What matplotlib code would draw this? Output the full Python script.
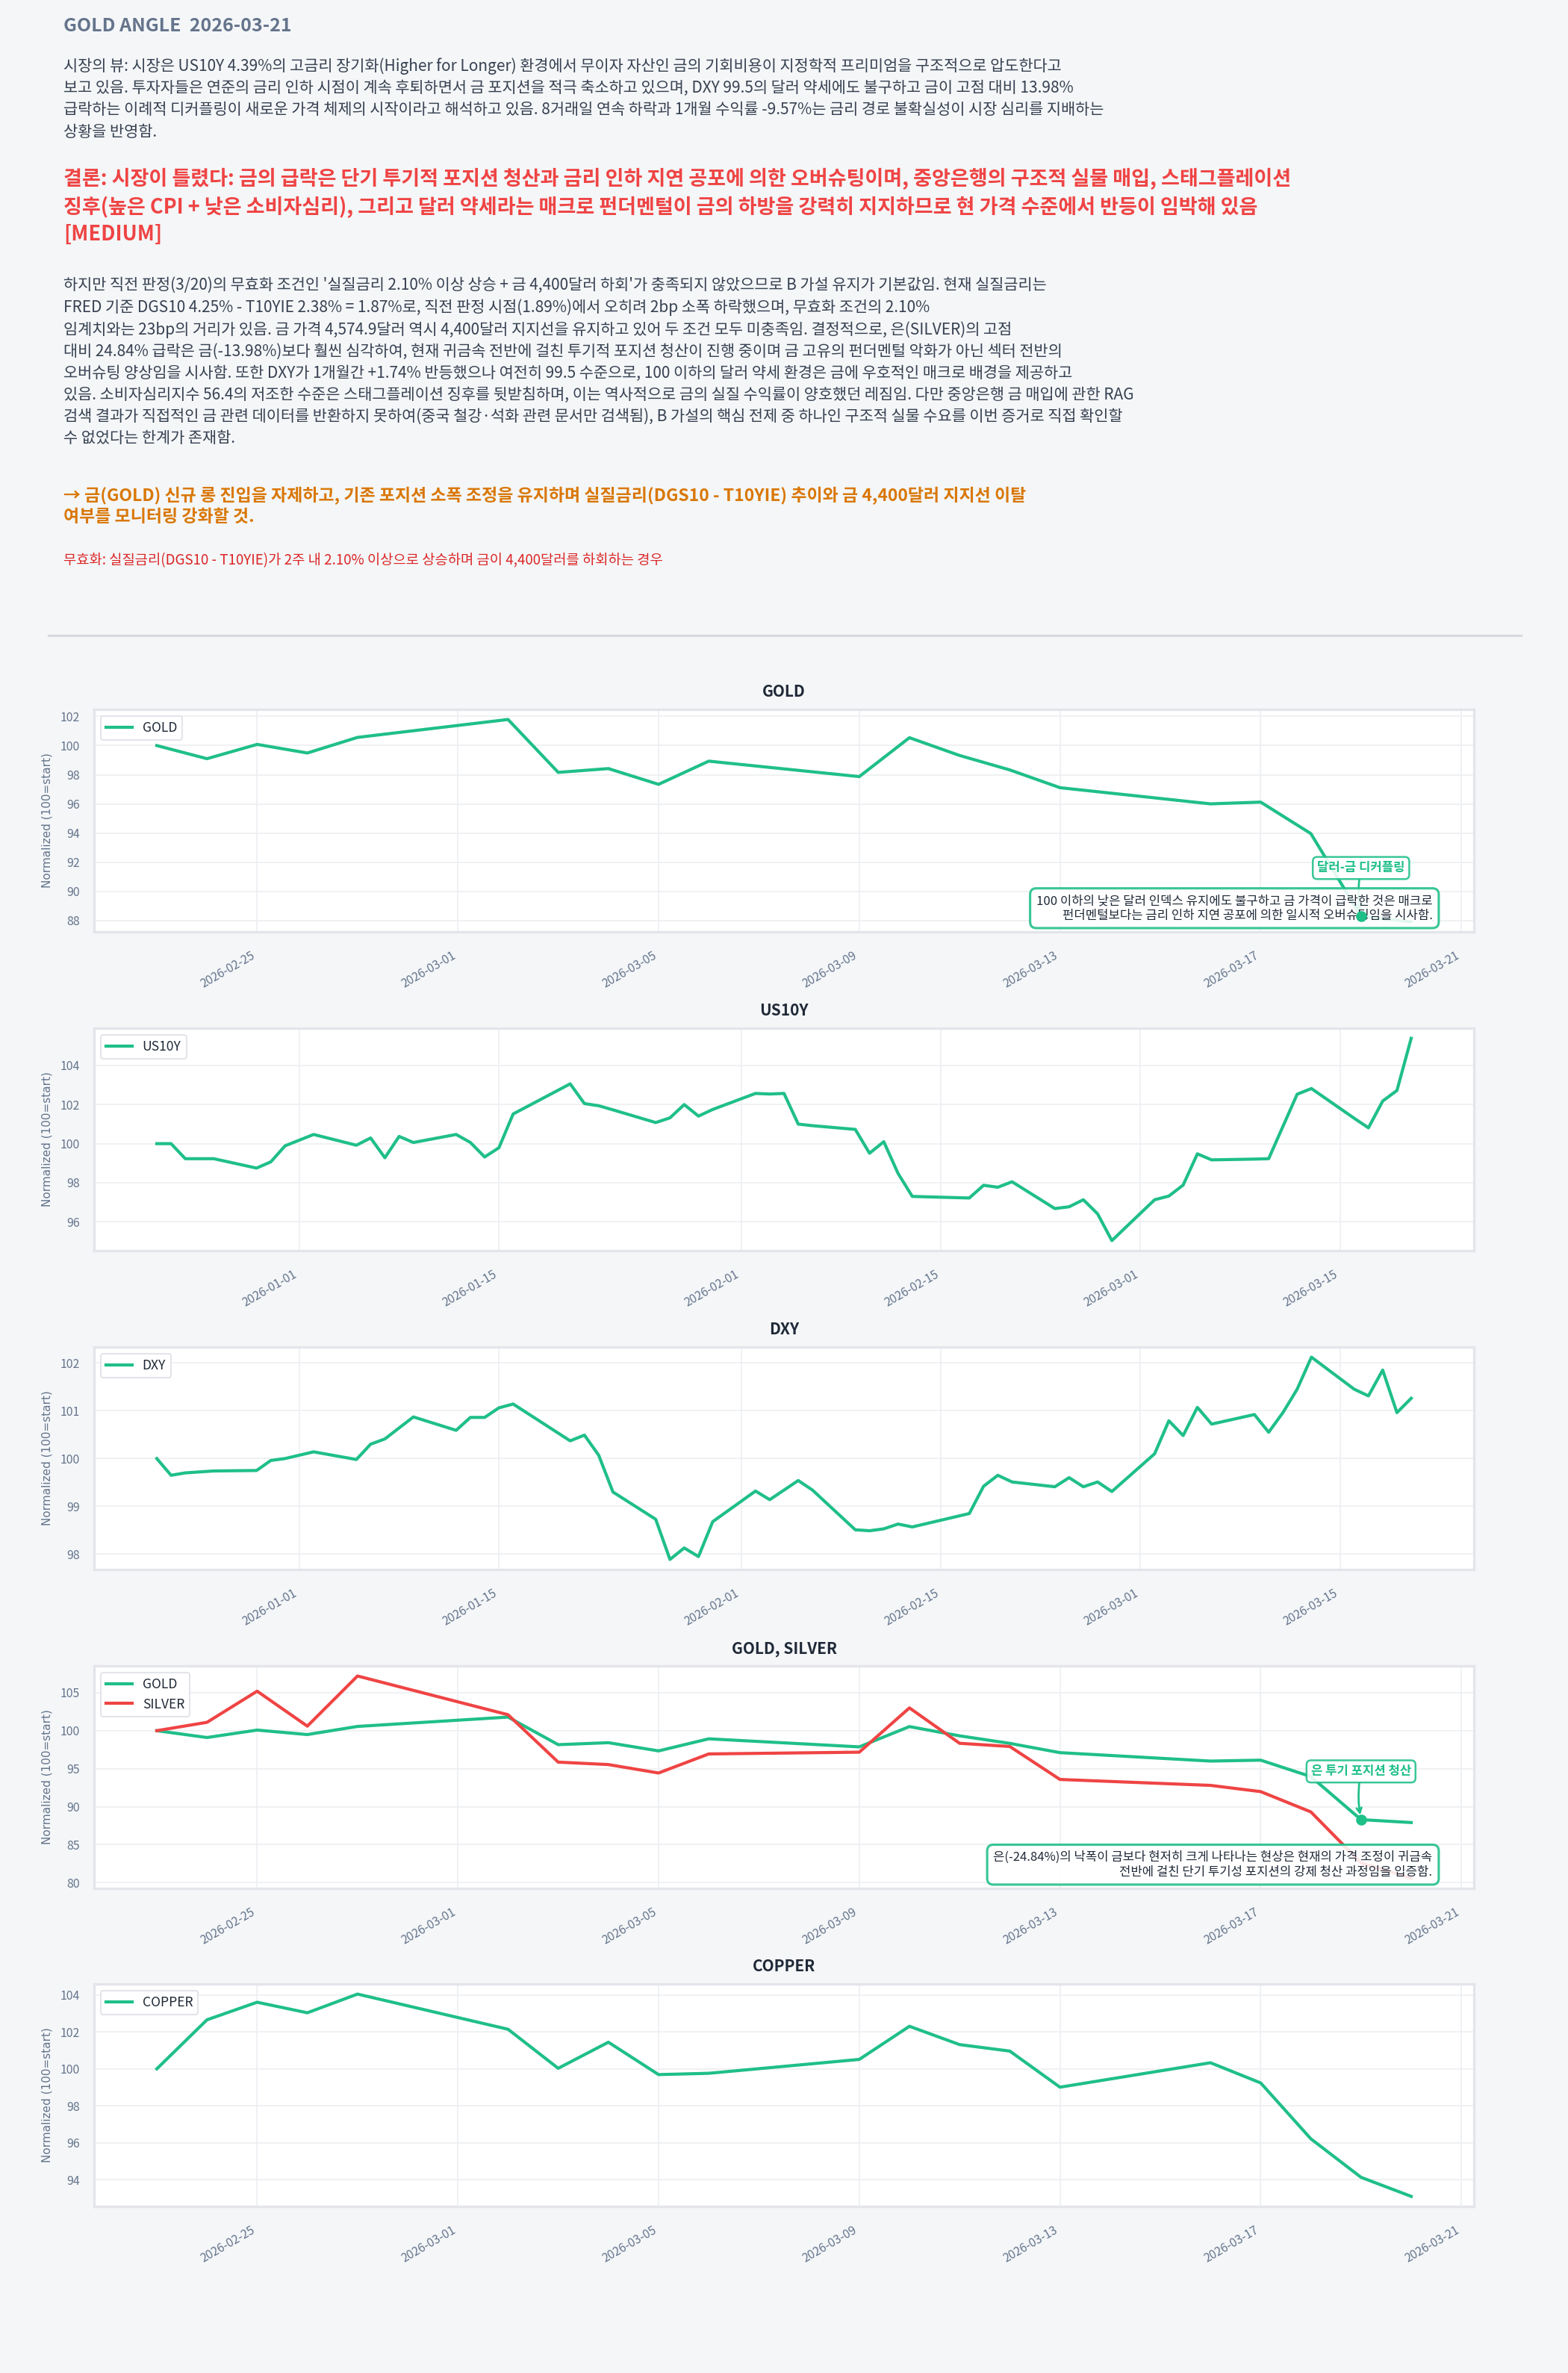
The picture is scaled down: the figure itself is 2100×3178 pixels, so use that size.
import pandas as pd
import matplotlib
matplotlib.use('Agg')
import matplotlib.pyplot as plt
import matplotlib.dates as mdates
from matplotlib.lines import Line2D

plt.rcParams['font.family'] = ['Noto Sans CJK KR', 'DejaVu Sans']

# ---- data (normalized, 100 = start) ----
metal_dates = ['2026-02-23', '2026-02-24', '2026-02-25', '2026-02-26', '2026-02-27',
               '2026-03-02', '2026-03-03', '2026-03-04', '2026-03-05', '2026-03-06',
               '2026-03-09', '2026-03-10', '2026-03-11', '2026-03-12', '2026-03-13',
               '2026-03-16', '2026-03-17', '2026-03-18', '2026-03-19', '2026-03-20']
gold = [100.0, 99.10, 100.08, 99.49, 100.56, 101.79, 98.16, 98.42, 97.34, 98.93,
        97.87, 100.54, 99.32, 98.33, 97.11, 96.00, 96.12, 93.96, 88.29, 87.91]
silver = [100.0, 101.1, 105.2, 100.6, 107.2, 102.1, 95.86, 95.54, 94.43, 96.94,
          97.17, 103.0, 98.34, 97.92, 93.58, 92.80, 91.98, 89.31, 82.6, 80.57]
copper = [100.0, 102.65, 103.6, 103.03, 104.04, 102.14, 100.03, 101.44, 99.69, 99.76,
          100.51, 102.3, 101.31, 100.96, 99.01, 100.33, 99.24, 96.22, 94.14, 93.11]

macro_dates = ['2025-12-22', '2025-12-23', '2025-12-24', '2025-12-26', '2025-12-29',
               '2025-12-30', '2025-12-31', '2026-01-02', '2026-01-05', '2026-01-06',
               '2026-01-07', '2026-01-08', '2026-01-09', '2026-01-12', '2026-01-13',
               '2026-01-14', '2026-01-15', '2026-01-16', '2026-01-20', '2026-01-21',
               '2026-01-22', '2026-01-23', '2026-01-26', '2026-01-27', '2026-01-28',
               '2026-01-29', '2026-01-30', '2026-02-02', '2026-02-03', '2026-02-04',
               '2026-02-05', '2026-02-06', '2026-02-09', '2026-02-10', '2026-02-11',
               '2026-02-12', '2026-02-13', '2026-02-17', '2026-02-18', '2026-02-19',
               '2026-02-20', '2026-02-23', '2026-02-24', '2026-02-25', '2026-02-26',
               '2026-02-27', '2026-03-02', '2026-03-03', '2026-03-04', '2026-03-05',
               '2026-03-06', '2026-03-09', '2026-03-10', '2026-03-11', '2026-03-12',
               '2026-03-13', '2026-03-16', '2026-03-17', '2026-03-18', '2026-03-19',
               '2026-03-20']
us10y = [100.0, 100.0, 99.23, 99.23, 98.75, 99.07, 99.89, 100.47, 99.92, 100.29,
         99.28, 100.37, 100.06, 100.47, 100.06, 99.32, 99.79, 101.52, 103.06, 102.05,
         101.94, 101.73, 101.08, 101.32, 102.0, 101.41, 101.75, 102.57, 102.54, 102.57,
         101.0, 100.92, 100.73, 99.51, 100.10, 98.48, 97.30, 97.22, 97.87, 97.77,
         98.05, 96.68, 96.77, 97.13, 96.41, 95.04, 97.13, 97.32, 97.88, 99.48,
         99.17, 99.21, 99.23, 100.88, 102.53, 102.82, 101.30, 100.81, 102.18, 102.72,
         105.39]
dxy = [100.0, 99.65, 99.70, 99.74, 99.75, 99.96, 100.0, 100.14, 99.98, 100.30,
       100.41, 100.64, 100.87, 100.59, 100.86, 100.86, 101.06, 101.14, 100.37, 100.49,
       100.07, 99.30, 98.73, 97.89, 98.13, 97.95, 98.68, 99.32, 99.14, 99.34,
       99.54, 99.34, 98.51, 98.49, 98.53, 98.63, 98.57, 98.85, 99.42, 99.65,
       99.51, 99.41, 99.60, 99.41, 99.51, 99.31, 100.10, 100.79, 100.48, 101.07,
       100.72, 100.92, 100.55, 100.96, 101.45, 102.12, 101.45, 101.31, 101.85, 100.96,
       101.26]

mark_date = '2026-03-19'

# ---- text ----
title = 'GOLD ANGLE  2026-03-21'
view_text = (
    '시장의 뷰: 시장은 US10Y 4.39%의 고금리 장기화(Higher for Longer) 환경에서 무이자 자산인 금의 기회비용이 지정학적 프리미엄을 구조적으로 압도한다고\n'
    '보고 있음. 투자자들은 연준의 금리 인하 시점이 계속 후퇴하면서 금 포지션을 적극 축소하고 있으며, DXY 99.5의 달러 약세에도 불구하고 금이 고점 대비 13.98%\n'
    '급락하는 이례적 디커플링이 새로운 가격 체제의 시작이라고 해석하고 있음. 8거래일 연속 하락과 1개월 수익률 -9.57%는 금리 경로 불확실성이 시장 심리를 지배하는\n'
    '상황을 반영함.')
verdict_text = (
    '결론: 시장이 틀렸다: 금의 급락은 단기 투기적 포지션 청산과 금리 인하 지연 공포에 의한 오버슈팅이며, 중앙은행의 구조적 실물 매입, 스태그플레이션\n'
    '징후(높은 CPI + 낮은 소비자심리), 그리고 달러 약세라는 매크로 펀더멘털이 금의 하방을 강력히 지지하므로 현 가격 수준에서 반등이 임박해 있음\n'
    '[MEDIUM]')
reason_text = (
    "하지만 직전 판정(3/20)의 무효화 조건인 '실질금리 2.10% 이상 상승 + 금 4,400달러 하회'가 충족되지 않았으므로 B 가설 유지가 기본값임. 현재 실질금리는\n"
    'FRED 기준 DGS10 4.25% - T10YIE 2.38% = 1.87%로, 직전 판정 시점(1.89%)에서 오히려 2bp 소폭 하락했으며, 무효화 조건의 2.10%\n'
    '임계치와는 23bp의 거리가 있음. 금 가격 4,574.9달러 역시 4,400달러 지지선을 유지하고 있어 두 조건 모두 미충족임. 결정적으로, 은(SILVER)의 고점\n'
    '대비 24.84% 급락은 금(-13.98%)보다 훨씬 심각하여, 현재 귀금속 전반에 걸친 투기적 포지션 청산이 진행 중이며 금 고유의 펀더멘털 악화가 아닌 섹터 전반의\n'
    '오버슈팅 양상임을 시사함. 또한 DXY가 1개월간 +1.74% 반등했으나 여전히 99.5 수준으로, 100 이하의 달러 약세 환경은 금에 우호적인 매크로 배경을 제공하고\n'
    '있음. 소비자심리지수 56.4의 저조한 수준은 스태그플레이션 징후를 뒷받침하며, 이는 역사적으로 금의 실질 수익률이 양호했던 레짐임. 다만 중앙은행 금 매입에 관한 RAG\n'
    '검색 결과가 직접적인 금 관련 데이터를 반환하지 못하여(중국 철강·석화 관련 문서만 검색됨), B 가설의 핵심 전제 중 하나인 구조적 실물 수요를 이번 증거로 직접 확인할\n'
    '수 없었다는 한계가 존재함.')
action_text = (
    '→ 금(GOLD) 신규 롱 진입을 자제하고, 기존 포지션 소폭 조정을 유지하며 실질금리(DGS10 - T10YIE) 추이와 금 4,400달러 지지선 이탈\n'
    '여부를 모니터링 강화할 것.')
invalid_text = '무효화: 실질금리(DGS10 - T10YIE)가 2주 내 2.10% 이상으로 상승하며 금이 4,400달러를 하회하는 경우'

gold_label = '달러-금 디커플링'
gold_note = ('100 이하의 낮은 달러 인덱스 유지에도 불구하고 금 가격이 급락한 것은 매크로\n'
             '펀더멘털보다는 금리 인하 지연 공포에 의한 일시적 오버슈팅임을 시사함.')
silver_label = '은 투기 포지션 청산'
silver_note = ('은(-24.84%)의 낙폭이 금보다 현저히 크게 나타나는 현상은 현재의 가격 조정이 귀금속\n'
               '전반에 걸친 단기 투기성 포지션의 강제 청산 과정임을 입증함.')

# ---- style ----
W, H, DPI = 2100, 3178, 150
BG = '#f4f6f8'
GREEN = '#1fbf88'
RED = '#ef4444'
MUTED = '#64748b'
DARK = '#1f2937'


def fx(px):
    return px / W


def fy(px):
    return 1 - px / H


fig = plt.figure(figsize=(W / DPI, H / DPI), dpi=DPI, facecolor=BG)

fig.text(fx(85), fy(23), title, ha='left', va='top', fontsize=12,
         fontweight='bold', color=MUTED)
fig.text(fx(85), fy(77), view_text, ha='left', va='top', fontsize=10,
         color='#374151', linespacing=1.43)
fig.text(fx(85), fy(225), verdict_text, ha='left', va='top', fontsize=13,
         fontweight='bold', color=RED, linespacing=1.36)
fig.text(fx(85), fy(371), reason_text, ha='left', va='top', fontsize=10,
         color='#374151', linespacing=1.41)
fig.text(fx(85), fy(652), action_text, ha='left', va='top', fontsize=11,
         fontweight='bold', color='#d97706', linespacing=1.25)
fig.text(fx(85), fy(740), invalid_text, ha='left', va='top', fontsize=9,
         color='#dc2626')
fig.add_artist(Line2D([fx(65), fx(2037)], [fy(851), fy(851)], color='#d6d9de', lw=1.5))


def style_axes(ax, name):
    ax.set_facecolor('white')
    for s in ax.spines.values():
        s.set_color('#e3e5ea')
        s.set_linewidth(1.6)
    ax.grid(True, color='#eeeff2', lw=0.8)
    ax.set_axisbelow(True)
    ax.tick_params(length=0, labelsize=7.6, labelcolor=MUTED)
    ax.tick_params(axis='y', pad=9)
    ax.tick_params(axis='x', pad=11, labelrotation=30)
    ax.set_ylabel('Normalized (100=start)', fontsize=7.3, color=MUTED, family='DejaVu Sans')
    ax.yaxis.set_label_coords(-0.030, 0.5)
    ax.set_title(name, fontsize=10, fontweight='bold', color=DARK, pad=8)
    ax.xaxis.set_major_formatter(mdates.DateFormatter('%Y-%m-%d'))


def mark_point(ax, dates, values, label, note):
    i = list(dates).index(pd.Timestamp(mark_date))
    ax.plot([dates[i]], [values[i]], 'o', color=GREEN, ms=6, zorder=7)
    ax.annotate(label, xy=(dates[i], values[i]), xytext=(0, 31),
                textcoords='offset points', ha='center', va='center',
                fontsize=8, fontweight='bold', color=GREEN,
                bbox=dict(boxstyle='round,pad=0.35', fc='white', ec=GREEN, lw=1.2, alpha=0.88),
                arrowprops=dict(arrowstyle='->', color=GREEN, lw=1.3,
                                connectionstyle='arc3,rad=0.1', shrinkA=0, shrinkB=3),
                zorder=4)
    ax.text(0.970, 0.045, note, transform=ax.transAxes, ha='right', va='bottom',
            fontsize=8, color=DARK, multialignment='right', zorder=5,
            bbox=dict(boxstyle='round,pad=0.5', fc='white', ec=GREEN, lw=1.5, alpha=0.88))


md = pd.to_datetime(metal_dates)
rd = pd.to_datetime(macro_dates)

panels = [
    ('GOLD', md, [('GOLD', gold, GREEN)]),
    ('US10Y', rd, [('US10Y', us10y, GREEN)]),
    ('DXY', rd, [('DXY', dxy, GREEN)]),
    ('GOLD, SILVER', md, [('GOLD', gold, GREEN), ('SILVER', silver, RED)]),
    ('COPPER', md, [('COPPER', copper, GREEN)]),
]
tops = [950, 1377, 1804, 2231, 2657]
left, right, height = 126, 1974, 298

for (name, dates, series), top in zip(panels, tops):
    ax = fig.add_axes([fx(left), fy(top + height), fx(right - left), height / H])
    for lab, vals, col in series:
        ax.plot(dates, vals, color=col, lw=2, label=lab, zorder=2)
    style_axes(ax, name)
    if dates is rd:
        ax.xaxis.set_major_locator(mdates.DayLocator(bymonthday=[1, 15]))
    else:
        ax.xaxis.set_major_locator(mdates.DayLocator(bymonthday=[1, 5, 9, 13, 17, 21, 25, 29]))
    for lbl in ax.get_xticklabels():
        lbl.set_ha('right')
    ax.legend(loc='upper left', fontsize=8.4, frameon=True, fancybox=True,
              edgecolor='#e3e5ea', facecolor='white', framealpha=1, labelcolor=DARK)
    if name == 'GOLD':
        mark_point(ax, dates, gold, gold_label, gold_note)
    elif name == 'GOLD, SILVER':
        mark_point(ax, dates, gold, silver_label, silver_note)

fig.savefig('out.png', dpi=DPI, facecolor=BG)
